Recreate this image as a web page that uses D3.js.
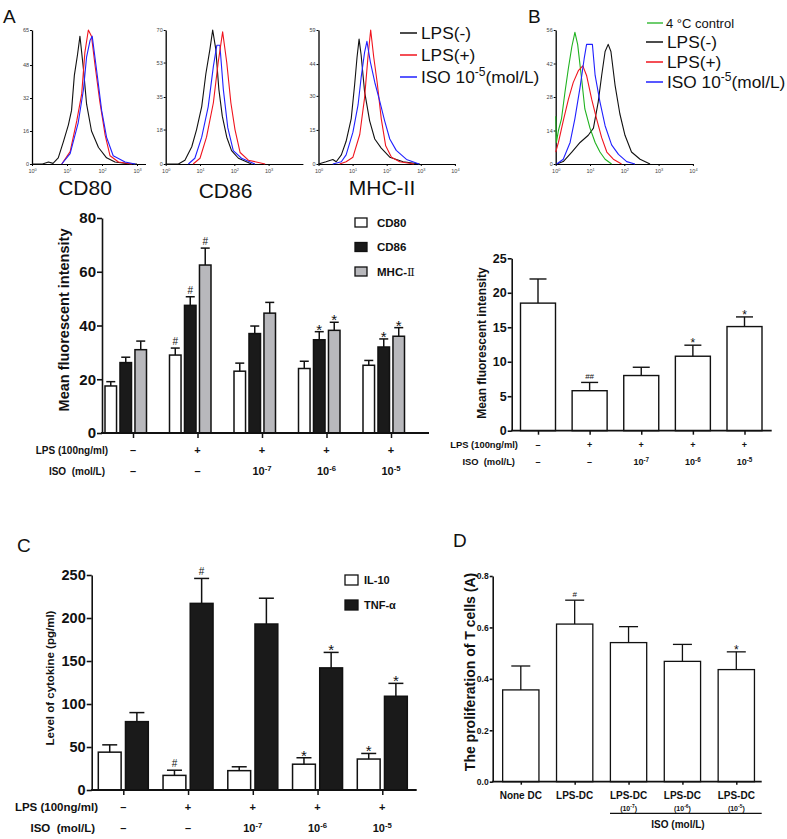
<!DOCTYPE html>
<html>
<head>
<meta charset="utf-8">
<script src="https://cdn.jsdelivr.net/npm/d3@7"></script>
<style>
body { margin: 0; background: #fff; }
svg { display: block; }
text { white-space: pre; }
</style>
</head>
<body>
<script>
// flow histograms: [log10 intensity, events]
const cd80Neg = [[0,0],[0.3,0],[0.47,1],[0.6,0.3],[0.75,3],[0.9,11],[1.04,19],[1.13,26],[1.21,43],[1.3,53],[1.37,62],[1.47,46],[1.56,29],[1.7,16],[1.9,8],[2.13,3],[2.37,1],[2.8,0],[3,0]]
const cd80Pos = [[0.85,0],[1.09,6],[1.28,21],[1.42,34],[1.51,54],[1.61,65],[1.7,62],[1.8,48],[1.94,30],[2.09,14],[2.23,4],[2.47,1],[2.85,0]]
const cd80Iso = [[0.85,0],[1.09,5],[1.32,20],[1.47,36],[1.56,52],[1.66,60],[1.72,62],[1.85,45],[1.99,26],[2.13,13],[2.32,4],[2.66,1],[2.95,0]]
const cd86Neg = [[0,0],[0.37,0],[0.56,2],[0.76,9],[0.9,18],[1.05,30],[1.17,47],[1.29,60],[1.37,70],[1.46,60],[1.55,39],[1.65,25],[1.78,14],[1.92,7],[2.12,3],[2.5,0]]
const cd86Pos = [[0.8,0],[1.0,3],[1.19,14],[1.39,32],[1.53,53],[1.66,69],[1.78,53],[1.9,32],[2.02,18],[2.17,6],[2.41,2],[2.9,0]]
const cd86Iso = [[0.66,0],[0.85,3],[1.05,14],[1.24,30],[1.39,51],[1.49,62],[1.58,62],[1.68,39],[1.81,19],[1.97,7],[2.21,3],[2.6,0]]
const mhcNeg = [[0,0],[0.22,1],[0.42,2],[0.52,1],[0.67,4],[0.81,10],[0.96,20],[1.06,35],[1.13,47],[1.19,55],[1.25,48],[1.35,32],[1.5,19],[1.65,11],[1.84,7],[2.09,3],[2.48,1],[2.97,0]]
const mhcPos = [[0.62,0],[0.81,1],[1.01,3],[1.21,13],[1.35,29],[1.45,47],[1.53,59],[1.62,47],[1.72,36],[1.84,20],[1.97,8],[2.14,3],[2.38,1],[2.8,0]]
const mhcIso = [[0.42,0],[0.67,1],[0.81,4],[1.01,14],[1.16,26],[1.25,38],[1.35,49],[1.42,54],[1.52,45],[1.65,36],[1.79,28],[1.94,19],[2.09,11],[2.28,6],[2.58,2],[2.95,0]]
const bCold = [[0,20],[0.02,9],[0.08,14],[0.17,19],[0.27,30],[0.37,40],[0.47,49],[0.56,55],[0.64,50],[0.76,35],[0.85,23],[1.0,15],[1.15,9],[1.29,5],[1.44,2],[1.63,0]]
const bNeg = [[0.03,0],[0.22,1],[0.47,5],[0.71,9],[0.95,12],[1.1,15],[1.24,26],[1.34,37],[1.44,47],[1.53,50],[1.61,47],[1.73,33],[1.87,21],[2.02,12],[2.21,5],[2.46,2],[2.75,0]]
const bPos = [[0,5],[0.08,9],[0.22,18],[0.37,27],[0.51,34],[0.66,39],[0.79,41],[0.9,37],[1.05,27],[1.19,19],[1.34,11],[1.49,5],[1.68,2],[1.92,0]]
const bIso = [[0.03,0],[0.22,2],[0.42,9],[0.56,19],[0.71,32],[0.83,44],[0.9,50],[1.0,50],[1.07,50],[1.15,37],[1.29,26],[1.44,16],[1.63,8],[1.83,4],[2.07,1],[2.31,0]]

// treatment rows shared by A, B, C
const lpsRow = ['–', '+', '+', '+', '+']
const isoRow = ['–', '–', '-7', '-6', '-5']

// A bars: mean fluorescent intensity
const cd80Mean = [17.5, 29, 23, 24, 25.2]
const cd80Err = [1.6, 2.6, 3, 2.7, 1.8]
const cd80Sig = ['', '#', '', '', '']
const cd86Mean = [26.2, 47.5, 37, 34.7, 32]
const cd86Err = [2, 3.2, 2.8, 3, 3]
const cd86Sig = ['', '#', '', '*', '*']
const mhcMean = [31, 62.5, 44.6, 38.2, 36]
const mhcErr = [3.2, 6.3, 4, 3, 3.2]
const mhcSig = ['', '#', '', '*', '*']

// B bars
const bMean = [18.5, 5.8, 8.0, 10.8, 15.1]
const bErr = [3.5, 1.2, 1.2, 1.6, 1.4]
const bSig = ['', '##', '', '*', '*']

// C bars: cytokines (pg/ml)
const il10Mean = [44, 17, 22.5, 30, 36]
const il10Err = [8.5, 6, 4.5, 7.5, 6.5]
const il10Sig = ['', '#', '', '*', '*']
const tnfMean = [79.5, 217, 193, 142, 109]
const tnfErr = [10.5, 29, 30, 18, 15]
const tnfSig = ['', '#', '', '*', '*']

// D bars: T cell proliferation
const dNames = ['None DC', 'LPS-DC', 'LPS-DC', 'LPS-DC', 'LPS-DC']
const dDose = ['', '', '-7', '-6', '-5']
const dMean = [0.357, 0.613, 0.541, 0.468, 0.436]
const dErr = [0.093, 0.093, 0.062, 0.066, 0.069]
const dSig = ['', '#', '', '', '*']

const red = '#f0141e', blue = '#2020ff', green = '#1fb21f', ink = '#111'
const font = "'Liberation Sans', Arial, Helvetica, sans-serif"

const svg = d3.select('body').append('svg')
	.attr('width', 787)
	.attr('height', 839)
	.attr('font-family', font)

function sup(t, base, exp, size) {
	t.append('tspan').text(base)
	t.append('tspan').attr('dy', -size * 0.4).attr('font-size', size * 0.7).text(exp)
}

function label(x, y, txt, size, opts = {}) {
	return svg.append('text')
		.attr('x', x).attr('y', y)
		.attr('font-size', size)
		.attr('font-weight', opts.bold ? 'bold' : null)
		.attr('text-anchor', opts.anchor || 'start')
		.attr('fill', opts.fill || ink)
		.text(txt)
}

// ---------- histograms ----------
const hists = [
	{ x0: 32, dec: 35, ymax: 65, ticks: [0, 16, 32, 48, 65], clip: [0, 146], curves: [[cd80Neg, ink], [cd80Pos, red], [cd80Iso, blue]] },
	{ x0: 165.7, dec: 34.3, ymax: 70, ticks: [0, 18, 35, 53, 70], clip: [146, 306], curves: [[cd86Neg, ink], [cd86Iso, blue], [cd86Pos, red]] },
	{ x0: 318.5, dec: 34.1, ymax: 59, ticks: [0, 15, 30, 44, 59], clip: [306, 470], curves: [[mhcNeg, ink], [mhcPos, red], [mhcIso, blue]] },
	{ x0: 555.7, dec: 34.3, ymax: 56, ticks: [0, 14, 28, 42, 56], clip: [540, 787], curves: [[bNeg, ink], [bCold, green], [bPos, red], [bIso, blue]] }
]

hists.forEach((p, i) => {
	svg.append('clipPath').attr('id', 'hc' + i)
		.append('rect').attr('x', p.clip[0]).attr('y', 0)
		.attr('width', p.clip[1] - p.clip[0]).attr('height', 180)
	const g = svg.append('g').attr('clip-path', `url(#hc${i})`)
	const x = d3.scaleLog().domain([1, 1e4]).range([p.x0, p.x0 + 4 * p.dec])
	const y = d3.scaleLinear().domain([0, p.ymax]).range([164, 30])

	g.append('g')
		.attr('transform', `translate(${p.x0},0)`)
		.call(d3.axisLeft(y).tickValues(p.ticks).tickSize(2).tickSizeOuter(0).tickPadding(1))
		.call(a => a.select('.domain').attr('stroke-width', 1.3))
		.selectAll('text').attr('font-size', 5.5).attr('fill', '#444')

	// only decades whose label fits inside this panel
	const decades = [1, 10, 100, 1000, 10000].filter(d => x(d) + 5 < p.clip[1])
	const xa = g.append('g')
		.attr('transform', 'translate(0,164)')
		.call(d3.axisBottom(x).tickValues(decades).tickSize(2).tickSizeOuter(0).tickFormat(''))
	xa.select('.domain').attr('stroke-width', 1.1)
	xa.selectAll('.tick').append('text')
		.attr('y', 9).attr('fill', '#444').attr('font-size', 5.5).attr('text-anchor', 'middle')
		.each(function(d) { sup(d3.select(this), '10', Math.round(Math.log10(d)), 5.5) })

	const line = d3.line().x(d => x(10 ** d[0])).y(d => y(d[1]))
	p.curves.forEach(([data, c]) => {
		g.append('path').datum(data)
			.attr('d', line)
			.attr('fill', 'none')
			.attr('stroke', c)
			.attr('stroke-width', 1.1)
			.attr('stroke-linejoin', 'round')
	})
})

label(3, 23, 'A', 19)
label(528, 23, 'B', 19)
label(85, 195, 'CD80', 21, { anchor: 'middle' })
label(225.5, 198, 'CD86', 21, { anchor: 'middle' })
label(382, 195, 'MHC-II', 21, { anchor: 'middle' })

// histogram legends
const legSize = 17.3
function legRow(x1, cy, t, c) {
	svg.append('line').attr('x1', x1).attr('x2', x1 + 17).attr('y1', cy).attr('y2', cy)
		.attr('stroke', c).attr('stroke-width', 1.5)
	const tx = label(x1 + 21, cy + 6, '', legSize)
	if (t === 'ISO') {
		sup(tx, 'ISO 10', '-5', legSize)
		tx.append('tspan').attr('dy', legSize * 0.4).text('(mol/L)')
	} else tx.text(t)
}
const legA = [['LPS(-)', ink], ['LPS(+)', red], ['ISO', blue]]
legA.forEach(([t, c], i) => legRow(400, 33 + i * 22, t, c))

svg.append('line').attr('x1', 647).attr('x2', 663).attr('y1', 23).attr('y2', 23)
	.attr('stroke', green).attr('stroke-width', 1.3)
label(666, 27.5, '4 °C control', 13)
const legB = [['LPS(-)', ink], ['LPS(+)', red], ['ISO', blue]]
legB.forEach(([t, c], i) => legRow(646, 42 + i * 20, t, c))

// ---------- shared bar helpers ----------
function bars(g, xc, w, y, mean, err, sig, fill, capW, sw, sigSize) {
	const d = mean.map((m, i) => ({ m, e: err[i], s: sig[i], i }))
	const b = g.append('g').selectAll('g').data(d).join('g')
	b.append('rect')
		.attr('x', d => xc(d.i) - w / 2)
		.attr('y', d => y(d.m))
		.attr('width', w)
		.attr('height', d => y(0) - y(d.m))
		.attr('fill', fill)
		.attr('stroke', ink)
		.attr('stroke-width', sw)
	b.append('line')
		.attr('x1', d => xc(d.i)).attr('x2', d => xc(d.i))
		.attr('y1', d => y(d.m)).attr('y2', d => y(d.m + d.e))
		.attr('stroke', ink).attr('stroke-width', sw)
	b.append('line')
		.attr('x1', d => xc(d.i) - capW / 2).attr('x2', d => xc(d.i) + capW / 2)
		.attr('y1', d => y(d.m + d.e)).attr('y2', d => y(d.m + d.e))
		.attr('stroke', ink).attr('stroke-width', sw)
	b.append('text')
		.attr('x', d => xc(d.i))
		.attr('y', d => y(d.m + d.e) - 3)
		.attr('text-anchor', 'middle')
		.attr('font-size', d => d.s === '*' ? sigSize * 1.5 : sigSize)
		.attr('dy', d => d.s === '*' ? sigSize * 0.6 : 0)
		.attr('fill', ink)
		.text(d => d.s)
}

function yAxis(x0, y, ticks, size, fmt, tick) {
	svg.append('g')
		.attr('transform', `translate(${x0},0)`)
		.call(d3.axisLeft(y).tickValues(ticks).tickSize(tick).tickSizeOuter(0).tickPadding(1).tickFormat(fmt))
		.call(a => a.selectAll('line, path').attr('stroke', ink).attr('stroke-width', 1.6))
		.selectAll('text').attr('font-size', size).attr('font-weight', 'bold').attr('fill', ink)
}

function xAxis(x, x0, x1, y0, tick) {
	const a = svg.append('g').attr('transform', `translate(0,${y0})`)
		.call(d3.axisBottom(x).tickSize(tick).tickFormat(''))
	a.select('.domain').remove()
	a.selectAll('line').attr('stroke', ink).attr('stroke-width', 1.5)
	svg.append('line').attr('x1', x0).attr('x2', x1).attr('y1', y0).attr('y2', y0)
		.attr('stroke', ink).attr('stroke-width', 1.8)
}

function rows(x, yL, yI, size, lx, lsize) {
	label(lx, yL + lsize * 0.35, 'LPS (100ng/ml)', lsize, { bold: true, anchor: 'end' })
	label(lx - 3, yI + lsize * 0.35, 'ISO  (mol/L)', lsize, { bold: true, anchor: 'end' })
	lpsRow.forEach((v, i) => label(x(i), yL + size * 0.35, v, size, { bold: true, anchor: 'middle' }))
	isoRow.forEach((v, i) => {
		const t = label(x(i), yI + size * 0.35, '', size, { bold: true, anchor: 'middle' })
		if (v === '–') t.text(v)
		else sup(t, '10', v, size)
	})
}

function yTitle(cx, cy, txt, size) {
	svg.append('text')
		.attr('transform', `translate(${cx},${cy}) rotate(-90)`)
		.attr('text-anchor', 'middle')
		.attr('dy', '0.35em')
		.attr('font-size', size)
		.attr('font-weight', 'bold')
		.attr('fill', ink)
		.text(txt)
}

// ---------- A: grouped MFI bars ----------
const xA = d3.scalePoint().domain(d3.range(5)).range([133, 391])
const yA = d3.scaleLinear().domain([0, 80]).range([433, 218])
const subA = d3.scaleBand().domain([0, 1, 2]).range([-28, 13.5]).paddingInner(0.23)
const gA = svg.append('g')
const seriesA = [[cd80Mean, cd80Err, cd80Sig, '#fff'], [cd86Mean, cd86Err, cd86Sig, '#1a1a1a'], [mhcMean, mhcErr, mhcSig, '#b8b8bc']]
seriesA.forEach(([m, e, s, f], k) => {
	bars(gA, i => xA(i) + subA(k) + subA.bandwidth() / 2, subA.bandwidth(), yA, m, e, s, f, 9, 1.5, 10)
})
yAxis(102, yA, [0, 20, 40, 60, 80], 15, d3.format('d'), 5)
xAxis(xA, 101, 429, 433, 5)
rows(xA, 450, 471.5, 11, 108, 10)
yTitle(64, 320, 'Mean fluorescent intensity', 14.5)

const legBars = [['CD80', '#fff'], ['CD86', '#1a1a1a'], ['MHC-', '#b8b8bc']]
legBars.forEach(([t, f], i) => {
	const cy = 222.5 + i * 24.5
	svg.append('rect').attr('x', 355).attr('y', cy - 4.5).attr('width', 12).attr('height', 9)
		.attr('fill', f).attr('stroke', ink).attr('stroke-width', 1.3)
	const tx = label(377, cy + 4, t, 11.5, { bold: true })
	if (i === 2) tx.append('tspan').attr('font-family', "'Liberation Serif', 'DejaVu Serif', serif").attr('font-weight', 'normal').text('Ⅱ')
})

// ---------- B: single bars ----------
const xB = d3.scalePoint().domain(d3.range(5)).range([538, 744.5])
const yB = d3.scaleLinear().domain([0, 25]).range([430.7, 258.3])
bars(svg.append('g'), i => xB(i), 35, yB, bMean, bErr, bSig, '#fff', 17, 1.4, 8)
yAxis(511.7, yB, [0, 5, 10, 15, 20, 25], 12.5, d3.format('d'), 4)
xAxis(xB, 511, 771.7, 430.7, 4)
rows(xB, 445, 462, 9, 518, 9.4)
yTitle(482, 343, 'Mean fluorescent intensity', 12)

// ---------- C: cytokines ----------
const xC = d3.scalePoint().domain(d3.range(5)).range([123.3, 382.3])
const yC = d3.scaleLinear().domain([0, 250]).range([790, 575])
const subC = d3.scaleBand().domain([0, 1]).range([-25, 25]).paddingInner(0.16)
const gC = svg.append('g')
bars(gC, i => xC(i) + subC(0) + subC.bandwidth() / 2, subC.bandwidth(), yC, il10Mean, il10Err, il10Sig, '#fff', 15, 1.5, 10)
bars(gC, i => xC(i) + subC(1) + subC.bandwidth() / 2, subC.bandwidth(), yC, tnfMean, tnfErr, tnfSig, '#1a1a1a', 15, 1.5, 10)
yAxis(91.7, yC, [0, 50, 100, 150, 200, 250], 14.5, d3.format('d'), 5)
xAxis(xC, 91, 416.7, 790, 5)
rows(xC, 806.7, 828.3, 11, 98, 11.5)
yTitle(50, 678, 'Level of cytokine (pg/ml)', 11.5)
label(17, 552, 'C', 19)

const legC = [['IL-10', '#fff'], ['TNF-α', '#1a1a1a']]
legC.forEach(([t, f], i) => {
	const cy = 580 + i * 25
	svg.append('rect').attr('x', 345).attr('y', cy - 5).attr('width', 13).attr('height', 10)
		.attr('fill', f).attr('stroke', ink).attr('stroke-width', 1.3)
	label(364, cy + 4, t, 11, { bold: true })
})

// ---------- D: T cell proliferation ----------
const xD = d3.scalePoint().domain(d3.range(5)).range([520.8, 736.3])
const yD = d3.scaleLinear().domain([0, 0.8]).range([781.7, 576])
bars(svg.append('g'), i => xD(i), 36.3, yD, dMean, dErr, dSig, '#fff', 19, 1.3, 8)
yAxis(492.7, yD, [0, 0.2, 0.4, 0.6, 0.8], 8.5, d3.format('.1f'), 3)
xAxis(xD, 492, 761.7, 781.7, 3)
yTitle(470, 672, 'The proliferation of T cells (A)', 14)
label(453, 547, 'D', 19)
dNames.forEach((n, i) => {
	label(xD(i), 799, n, 10, { bold: true, anchor: 'middle' })
	if (dDose[i]) {
		const t = label(xD(i), 811, '(', 7, { bold: true, anchor: 'middle' })
		sup(t, '10', dDose[i], 7)
		t.append('tspan').attr('dy', 7 * 0.4).text(')')
	}
})
svg.append('line').attr('x1', 610).attr('x2', 761.7).attr('y1', 813.3).attr('y2', 813.3)
	.attr('stroke', ink).attr('stroke-width', 1.3)
label(678, 828, 'ISO (mol/L)', 10, { bold: true, anchor: 'middle' })
</script>
</body>
</html>
